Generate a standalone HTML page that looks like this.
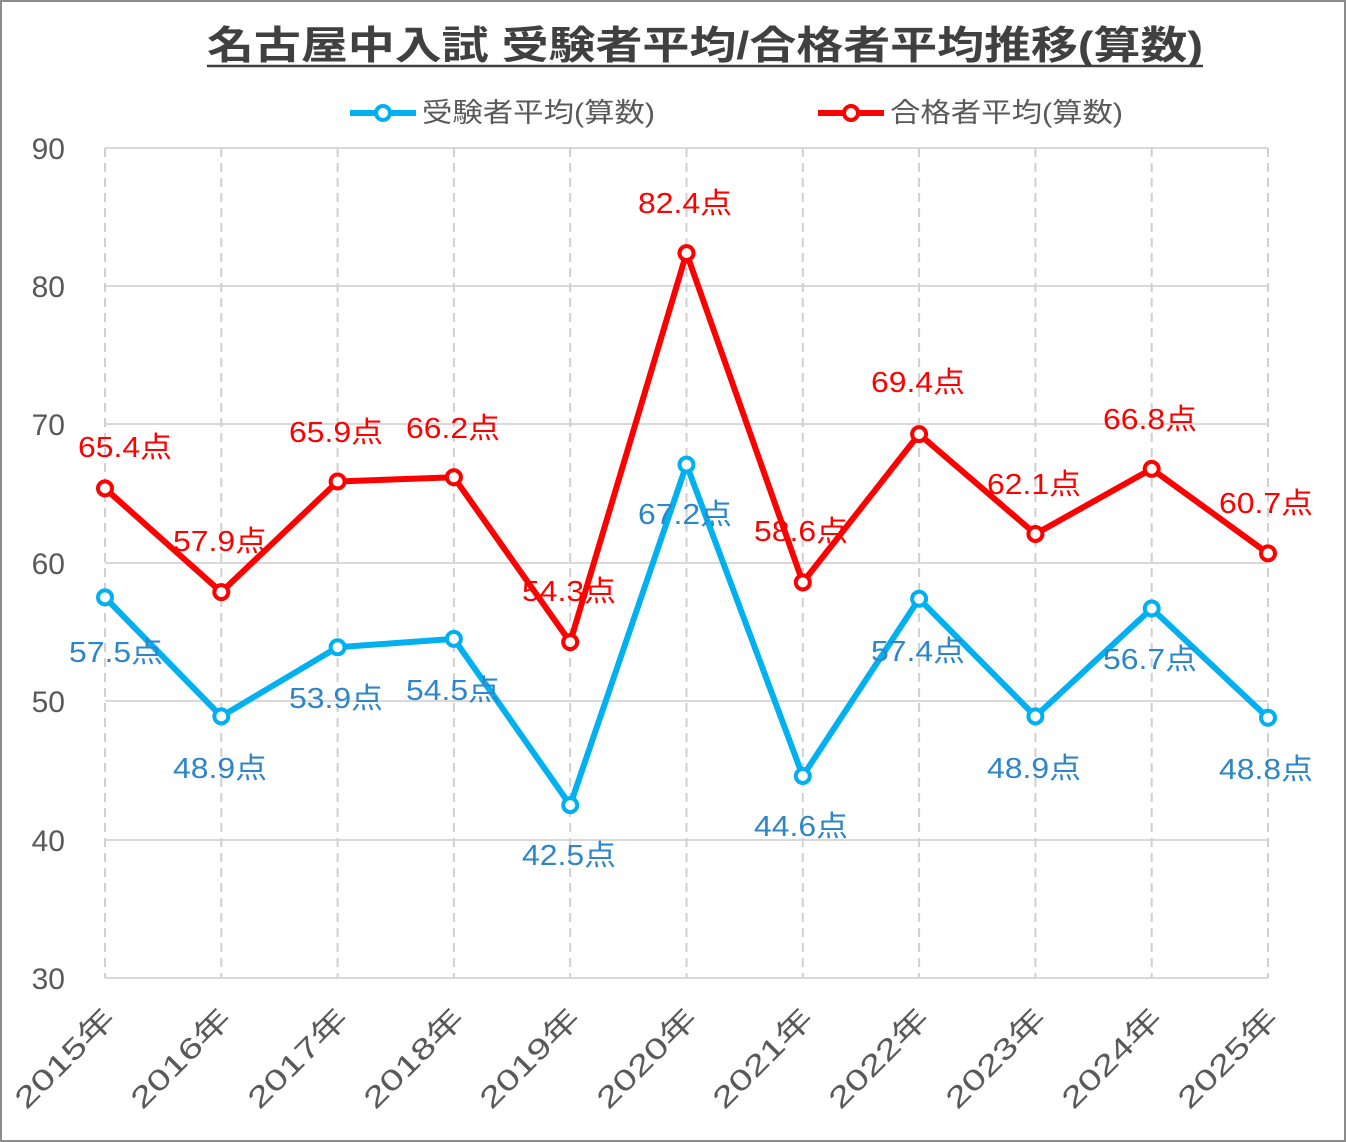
<!DOCTYPE html>
<html><head><meta charset="utf-8"><style>
html,body{margin:0;padding:0;background:#fff;}
svg{display:block;}
text{font-family:"Liberation Sans","Noto Sans CJK JP",sans-serif;}
</style></head><body>
<svg width="1346" height="1142" viewBox="0 0 1346 1142" xmlns="http://www.w3.org/2000/svg">
<rect x="1" y="1" width="1344" height="1140" fill="#fff" stroke="#8c8c8c" stroke-width="2"/>
<text x="207" y="59" font-size="39" font-weight="bold" fill="#404040" textLength="996" lengthAdjust="spacingAndGlyphs">名古屋中入試 受験者平均/合格者平均推移(算数)</text>
<line x1="207" y1="66" x2="1203" y2="66" stroke="#404040" stroke-width="2.5"/>
<!-- legend -->
<line x1="350" y1="113" x2="416" y2="113" stroke="#00b0f0" stroke-width="6"/>
<circle cx="383" cy="113" r="7" fill="#fff" stroke="#00b0f0" stroke-width="4"/>
<text x="422" y="122" font-size="27" fill="#595959" textLength="233" lengthAdjust="spacingAndGlyphs">受験者平均(算数)</text>
<line x1="818" y1="113" x2="884" y2="113" stroke="#ff0000" stroke-width="6"/>
<circle cx="851" cy="113" r="7" fill="#fff" stroke="#ff0000" stroke-width="4"/>
<text x="890" y="122" font-size="27" fill="#595959" textLength="233" lengthAdjust="spacingAndGlyphs">合格者平均(算数)</text>
<!-- grid -->
<g stroke="#d9d9d9" stroke-width="2">
<line x1="105" y1="148" x2="1268" y2="148"/>
<line x1="105" y1="286" x2="1268" y2="286"/>
<line x1="105" y1="424" x2="1268" y2="424"/>
<line x1="105" y1="563" x2="1268" y2="563"/>
<line x1="105" y1="701" x2="1268" y2="701"/>
<line x1="105" y1="840" x2="1268" y2="840"/>
<line x1="105" y1="978" x2="1268" y2="978"/>
</g>
<g stroke="#d0d0d0" stroke-width="2" stroke-dasharray="9,6">
<line x1="105" y1="148" x2="105" y2="978"/><line x1="221.3" y1="148" x2="221.3" y2="978"/>
<line x1="337.6" y1="148" x2="337.6" y2="978"/><line x1="453.9" y1="148" x2="453.9" y2="978"/>
<line x1="570.2" y1="148" x2="570.2" y2="978"/><line x1="686.5" y1="148" x2="686.5" y2="978"/>
<line x1="802.8" y1="148" x2="802.8" y2="978"/><line x1="919.1" y1="148" x2="919.1" y2="978"/>
<line x1="1035.4" y1="148" x2="1035.4" y2="978"/><line x1="1151.7" y1="148" x2="1151.7" y2="978"/>
<line x1="1268" y1="148" x2="1268" y2="978"/>
</g>
<g font-size="30" fill="#595959" text-anchor="end">
<text x="65" y="159">90</text><text x="65" y="297">80</text><text x="65" y="435">70</text>
<text x="65" y="574">60</text><text x="65" y="712">50</text><text x="65" y="851">40</text><text x="65" y="989">30</text>
</g>
<g font-size="29" fill="#595959" text-anchor="end">
<text transform="translate(117,1020) rotate(-45)" textLength="128" lengthAdjust="spacingAndGlyphs">2015年</text>
<text transform="translate(233,1020) rotate(-45)" textLength="128" lengthAdjust="spacingAndGlyphs">2016年</text>
<text transform="translate(350,1020) rotate(-45)" textLength="128" lengthAdjust="spacingAndGlyphs">2017年</text>
<text transform="translate(466,1020) rotate(-45)" textLength="128" lengthAdjust="spacingAndGlyphs">2018年</text>
<text transform="translate(582,1020) rotate(-45)" textLength="128" lengthAdjust="spacingAndGlyphs">2019年</text>
<text transform="translate(699,1020) rotate(-45)" textLength="128" lengthAdjust="spacingAndGlyphs">2020年</text>
<text transform="translate(815,1020) rotate(-45)" textLength="128" lengthAdjust="spacingAndGlyphs">2021年</text>
<text transform="translate(931,1020) rotate(-45)" textLength="128" lengthAdjust="spacingAndGlyphs">2022年</text>
<text transform="translate(1048,1020) rotate(-45)" textLength="128" lengthAdjust="spacingAndGlyphs">2023年</text>
<text transform="translate(1164,1020) rotate(-45)" textLength="128" lengthAdjust="spacingAndGlyphs">2024年</text>
<text transform="translate(1280,1020) rotate(-45)" textLength="128" lengthAdjust="spacingAndGlyphs">2025年</text>
</g>
<!-- series -->
<polyline fill="none" stroke="#00b0f0" stroke-width="6" stroke-linejoin="round" points="105,597.4 221.3,716.4 337.6,647.2 453.9,638.9 570.2,805.1 686.5,464.6 802.8,776.0 919.1,598.8 1035.4,716.4 1151.7,608.5 1268,717.8"/>
<polyline fill="none" stroke="#ff0000" stroke-width="6" stroke-linejoin="round" points="105,488.4 221.3,592.1 337.6,481.5 453.9,477.3 570.2,642.1 686.5,253.1 802.8,582.4 919.1,434.1 1035.4,534.0 1151.7,468.9 1268,553.4"/>
<g fill="#fff" stroke="#00b0f0" stroke-width="4">
<circle cx="105" cy="597.4" r="7"/><circle cx="221.3" cy="716.4" r="7"/><circle cx="337.6" cy="647.2" r="7"/><circle cx="453.9" cy="638.9" r="7"/><circle cx="570.2" cy="805.1" r="7"/><circle cx="686.5" cy="464.6" r="7"/><circle cx="802.8" cy="776.0" r="7"/><circle cx="919.1" cy="598.8" r="7"/><circle cx="1035.4" cy="716.4" r="7"/><circle cx="1151.7" cy="608.5" r="7"/><circle cx="1268" cy="717.8" r="7"/>
</g>
<g fill="#fff" stroke="#ff0000" stroke-width="4">
<circle cx="105" cy="488.4" r="7"/><circle cx="221.3" cy="592.1" r="7"/><circle cx="337.6" cy="481.5" r="7"/><circle cx="453.9" cy="477.3" r="7"/><circle cx="570.2" cy="642.1" r="7"/><circle cx="686.5" cy="253.1" r="7"/><circle cx="802.8" cy="582.4" r="7"/><circle cx="919.1" cy="434.1" r="7"/><circle cx="1035.4" cy="534.0" r="7"/><circle cx="1151.7" cy="468.9" r="7"/><circle cx="1268" cy="553.4" r="7"/>
</g>
<g font-size="29" fill="#ff0000" text-anchor="middle">
<text x="125" y="457" textLength="94" lengthAdjust="spacingAndGlyphs">65.4点</text><text x="220" y="551" textLength="94" lengthAdjust="spacingAndGlyphs">57.9点</text><text x="336" y="442" textLength="94" lengthAdjust="spacingAndGlyphs">65.9点</text>
<text x="453" y="438" textLength="94" lengthAdjust="spacingAndGlyphs">66.2点</text><text x="569" y="601" textLength="94" lengthAdjust="spacingAndGlyphs">54.3点</text><text x="685" y="213" textLength="94" lengthAdjust="spacingAndGlyphs">82.4点</text>
<text x="801" y="541" textLength="94" lengthAdjust="spacingAndGlyphs">58.6点</text><text x="918" y="392" textLength="94" lengthAdjust="spacingAndGlyphs">69.4点</text><text x="1034" y="494" textLength="94" lengthAdjust="spacingAndGlyphs">62.1点</text>
<text x="1150" y="429" textLength="94" lengthAdjust="spacingAndGlyphs">66.8点</text><text x="1266" y="513" textLength="94" lengthAdjust="spacingAndGlyphs">60.7点</text>
</g>
<g font-size="29" fill="#2e86c8" text-anchor="middle">
<text x="116" y="662" textLength="94" lengthAdjust="spacingAndGlyphs">57.5点</text><text x="220" y="778" textLength="94" lengthAdjust="spacingAndGlyphs">48.9点</text><text x="336" y="708" textLength="94" lengthAdjust="spacingAndGlyphs">53.9点</text>
<text x="453" y="700" textLength="94" lengthAdjust="spacingAndGlyphs">54.5点</text><text x="569" y="865" textLength="94" lengthAdjust="spacingAndGlyphs">42.5点</text><text x="685" y="524" textLength="94" lengthAdjust="spacingAndGlyphs">67.2点</text>
<text x="801" y="836" textLength="94" lengthAdjust="spacingAndGlyphs">44.6点</text><text x="918" y="661" textLength="94" lengthAdjust="spacingAndGlyphs">57.4点</text><text x="1034" y="778" textLength="94" lengthAdjust="spacingAndGlyphs">48.9点</text>
<text x="1150" y="669" textLength="94" lengthAdjust="spacingAndGlyphs">56.7点</text><text x="1266" y="779" textLength="94" lengthAdjust="spacingAndGlyphs">48.8点</text>
</g>
</svg>
</body></html>
